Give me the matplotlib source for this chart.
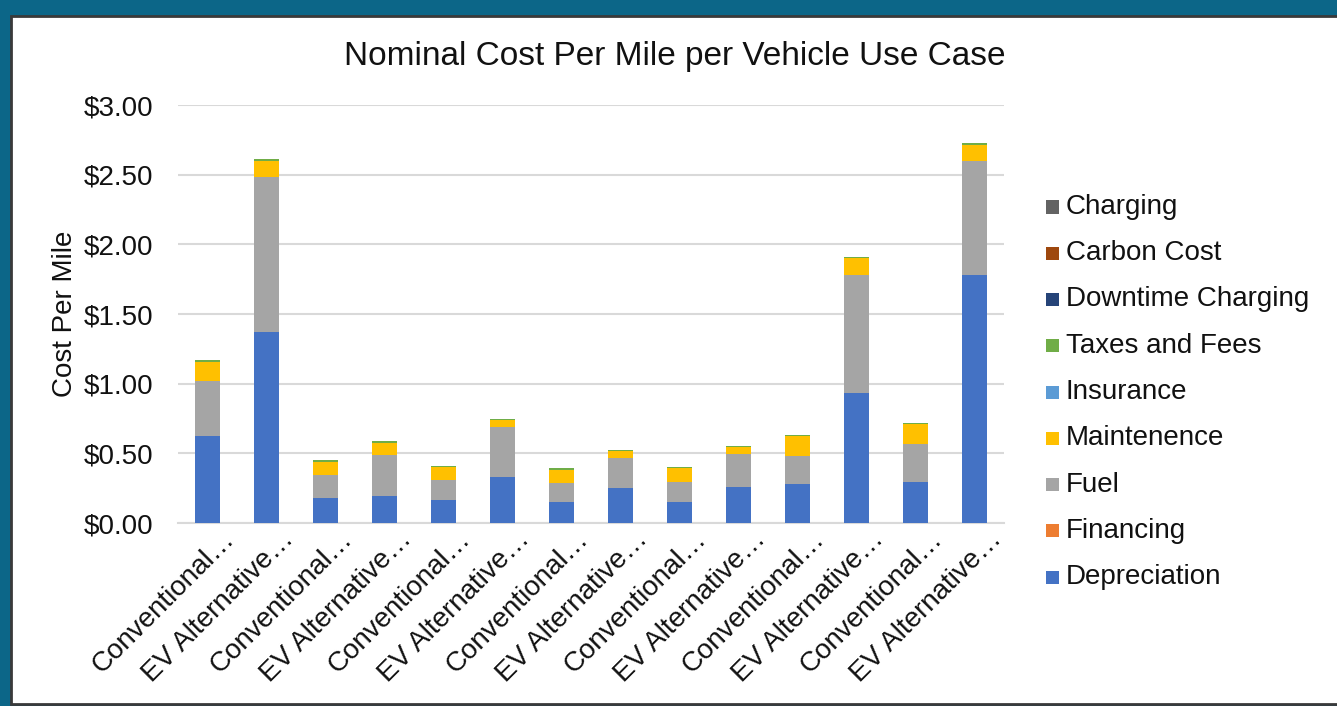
import matplotlib
matplotlib.use("Agg")
import matplotlib.pyplot as plt
import matplotlib.transforms as mtransforms
from matplotlib.patches import Rectangle
import numpy as np

plt.rcParams['font.family'] = ['Liberation Sans', 'DejaVu Sans']

categories = ["Conventional…", "EV Alternative…"] * 7

series_names = ["Depreciation", "Financing", "Fuel", "Maintenence", "Insurance",
                "Taxes and Fees", "Downtime Charging", "Carbon Cost", "Charging"]
series_colors = ["#4472C4", "#ED7D31", "#A5A5A5", "#FFC000", "#5B9BD5",
                 "#70AD47", "#264478", "#9E480E", "#636363"]

depreciation = [0.623, 1.368, 0.182, 0.192, 0.163, 0.328, 0.154,
                0.249, 0.154, 0.259, 0.278, 0.930, 0.297, 1.779]
financing = [0.0] * 14
fuel = [0.393, 1.118, 0.163, 0.294, 0.144, 0.362, 0.133,
        0.221, 0.143, 0.237, 0.201, 0.849, 0.268, 0.822]
maintenence = [0.141, 0.115, 0.093, 0.089, 0.095, 0.046, 0.094,
               0.047, 0.098, 0.050, 0.144, 0.120, 0.142, 0.115]
insurance = [0.0] * 14
taxes_fees = [0.012, 0.010, 0.012, 0.010, 0.010, 0.009, 0.012,
              0.010, 0.007, 0.010, 0.009, 0.008, 0.009, 0.010]
downtime_charging = [0.0] * 14
carbon_cost = [0.0] * 14
charging = [0.0] * 14

series_values = [depreciation, financing, fuel, maintenence, insurance,
                 taxes_fees, downtime_charging, carbon_cost, charging]

yticks = [0.0, 0.5, 1.0, 1.5, 2.0, 2.5, 3.0]
ytick_labels = ["$0.00", "$0.50", "$1.00", "$1.50", "$2.00", "$2.50", "$3.00"]

FS = 20
W, H = 1337, 706
fig = plt.figure(figsize=(W / 100, H / 100), dpi=100)
fig.patch.set_facecolor("#0c6688")

# white chart panel with dark frame
panel = Rectangle((11.5 / W, 1 - 704 / H), 1.0, (704 - 15.5) / H,
                  transform=fig.transFigure, facecolor="white",
                  edgecolor="#3a3a3a", linewidth=2.0, zorder=0)
fig.patches.append(panel)

ax = fig.add_axes([178 / W, 1 - 523 / H, (1004 - 178) / W, (523 - 105) / H])
ax.set_facecolor("none")
ax.set_zorder(2)

x = np.arange(len(categories))
bottom = np.zeros(len(categories))
for name, color, vals in zip(series_names, series_colors, series_values):
    vals = np.array(vals)
    ax.bar(x, vals, width=0.41, bottom=bottom, color=color, label=name,
           edgecolor="none", zorder=3)
    bottom += vals

ax.set_xlim(-0.5, len(categories) - 0.5)
ax.set_ylim(0, 3.0)
ax.set_yticks(yticks)
ax.set_yticklabels(ytick_labels, fontsize=FS, color="#111111")
ax.set_xticks(x)
ax.set_xticklabels(categories, rotation=45, ha="right", va="top",
                   rotation_mode="anchor", fontsize=FS, color="#111111")
ax.tick_params(axis="both", length=0)
ax.tick_params(axis="y", pad=18)
ax.tick_params(axis="x", pad=2)

# nudge the slanted category labels so their ends sit just right of each bar
shift = mtransforms.ScaledTranslation(14 / 100, 0, fig.dpi_scale_trans)
for lbl in ax.get_xticklabels():
    lbl.set_transform(lbl.get_transform() + shift)

ax.grid(axis="y", color="#d9d9d9", linewidth=1.5, zorder=0)
for s in ["top", "right", "left"]:
    ax.spines[s].set_visible(False)
ax.spines["bottom"].set_color("#d9d9d9")
ax.spines["bottom"].set_linewidth(1.5)

ax.set_ylabel("Cost Per Mile", fontsize=FS, color="#111111", labelpad=4)

fig.text(675 / W, 1 - 56 / H, "Nominal Cost Per Mile per Vehicle Use Case",
         ha="center", va="center", fontsize=24, color="#111111")

# legend, top entry first
leg_y0 = 207
leg_step = 46.25
for i, (name, color) in enumerate(zip(series_names[::-1], series_colors[::-1])):
    yc = leg_y0 + i * leg_step
    fig.patches.append(Rectangle((1046 / W, 1 - (yc + 6.5) / H), 13 / W, 13 / H,
                                 transform=fig.transFigure, facecolor=color,
                                 edgecolor="none", zorder=2))
    fig.text(1066 / W, 1 - yc / H, name, ha="left", va="center",
             fontsize=FS, color="#111111")

fig.savefig("out.png", dpi=100, facecolor=fig.get_facecolor())
